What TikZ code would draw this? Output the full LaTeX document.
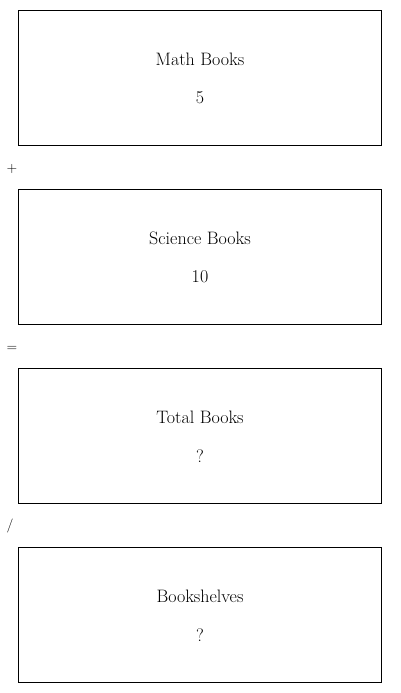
\documentclass[tikz,border=0pt]{standalone}
\begin{document}
\begin{tikzpicture}[x=1pt,y=-1pt,
  box/.style={draw,line width=0.9pt,minimum width=363pt,minimum height=135pt,anchor=north west,inner sep=0pt},
  lbl/.style={font=\fontsize{18}{21}\selectfont},
  op/.style={font=\fontsize{14}{16}\selectfont}]
\useasboundingbox (0,0) rectangle (400,693);
\node[box] (b1) at (18,10) {};
\node[box] (b2) at (18,189) {};
\node[box] (b3) at (18,368) {};
\node[box] (b4) at (18,547) {};
\node[lbl] (t1) at (200,59) {Math Books};
\node[lbl] (v1) at (200,98) {5};
\node[lbl] (t2) at (200,238) {Science Books};
\node[lbl] (v2) at (200,277) {10};
\node[lbl] (t3) at (200,417) {Total Books};
\node[lbl] (v3) at (200,456) {?};
\node[lbl] (t4) at (200,596) {Bookshelves};
\node[lbl] (v4) at (200,635) {?};
\node[op] (o1) at (12,169) {+};
\node[op] (o2) at (12,349) {=};
\node[op] (o3) at (10,526) {/};
\end{tikzpicture}
\end{document}
